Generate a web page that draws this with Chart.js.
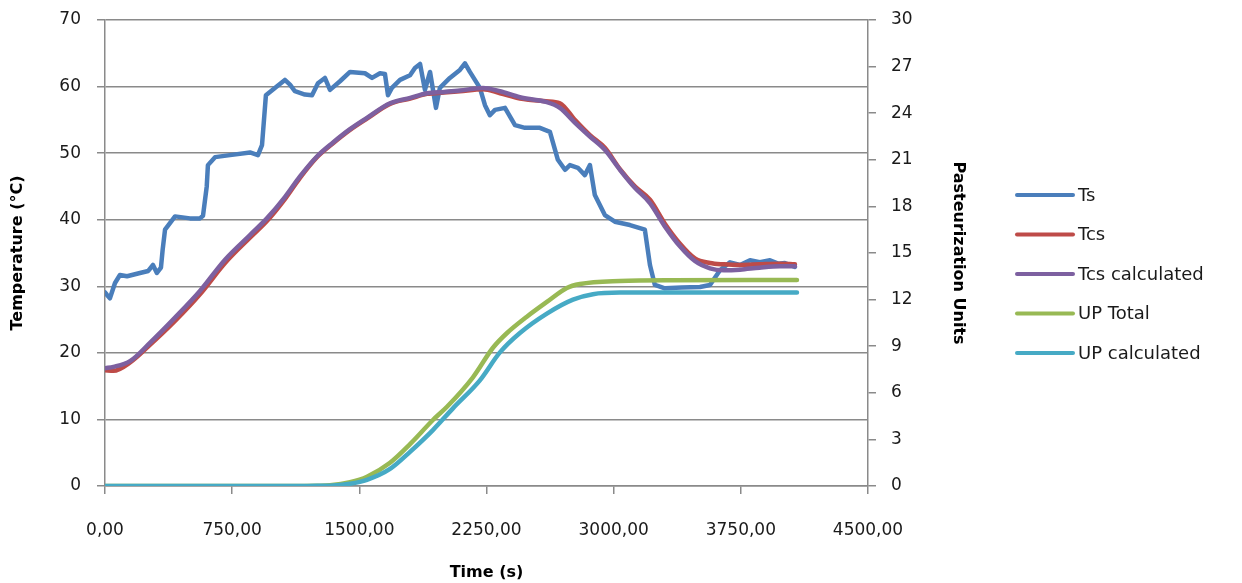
<!DOCTYPE html>
<html>
<head>
<meta charset="utf-8">
<script src="https://cdn.jsdelivr.net/npm/chart.js@4.4.1/dist/chart.umd.min.js"></script>
<style>
  html, body { margin: 0; padding: 0; background: #fff; }
  #wrap { width: 1242px; height: 583px; }
</style>
</head>
<body>
<div id="wrap"><canvas id="pasteurChart" width="1242" height="583"></canvas></div>
<script>
// Time axis ticks and series
const timeTicks = [0, 750, 1500, 2250, 3000, 3750, 4500];

// Ts (surface temperature) - noisy series
const tsTime = [0, 12, 29, 59, 88, 130, 206, 255, 283, 306, 330, 340, 354, 383, 413, 501, 560, 578, 600, 607,
  649, 737, 855, 902, 926, 949, 1002, 1061, 1091, 1120, 1179, 1221, 1256, 1297, 1327, 1386, 1445, 1533,
  1575, 1622, 1651, 1669, 1692, 1740, 1799, 1828, 1858, 1887, 1917, 1952, 1975, 2034, 2093, 2123, 2152,
  2211, 2241, 2270, 2300, 2359, 2418, 2477, 2565, 2624, 2671, 2713, 2742, 2789, 2830, 2860, 2889, 2948,
  3007, 3096, 3184, 3214, 3243, 3302, 3400, 3509, 3568, 3627, 3686, 3745, 3804, 3862, 3922, 3970, 4010, 4069];
const tsValues = [29.1, 28.7, 28.2, 30.5, 31.7, 31.5, 32.0, 32.3, 33.2, 32.0, 32.8, 35.5, 38.5, 39.5, 40.5, 40.2, 40.2, 40.6, 45.0, 48.2,
  49.4, 49.7, 50.1, 49.7, 51.2, 58.7, 59.8, 61.0, 60.3, 59.3, 58.8, 58.7, 60.5, 61.3, 59.5, 60.8, 62.2, 62.0,
  61.3, 62.0, 61.9, 58.7, 59.8, 61.0, 61.7, 62.8, 63.4, 59.5, 62.2, 56.8, 59.8, 61.3, 62.5, 63.5, 62.2,
  59.8, 57.2, 55.7, 56.5, 56.8, 54.2, 53.8, 53.8, 53.2, 49.0, 47.5, 48.2, 47.8, 46.7, 48.2, 43.7, 40.7,
  39.7, 39.2, 38.5, 33.2, 30.2, 29.7, 29.8, 29.9, 30.2, 32.4, 33.6, 33.2, 33.9, 33.6, 33.9, 33.4, 33.5, 32.9];

// Tcs (cold spot) measured and calculated, same time base
const tcsTime = [0, 50, 150, 265, 413, 560, 708, 855, 955, 1061, 1150, 1250, 1345, 1445, 1545, 1681, 1800, 1899,
  2000, 2093, 2229, 2330, 2447, 2600, 2683, 2771, 2860, 2948, 3037, 3125, 3214, 3302, 3391, 3479, 3568,
  3650, 3745, 3860, 3980, 4069];
const tcsValues = [17.4, 17.3, 18.6, 21.2, 24.8, 28.8, 33.5, 37.3, 39.8, 43.1, 46.3, 49.4, 51.5, 53.5, 55.2, 57.4, 58.2, 58.9,
  59.1, 59.3, 59.6, 59.0, 58.2, 57.8, 57.5, 55.0, 52.7, 50.8, 47.6, 45.0, 43.0, 39.4, 36.4, 34.2, 33.5,
  33.3, 33.2, 33.3, 33.4, 33.3];
const tcsCalcValues = [17.7, 17.9, 18.8, 21.5, 25.3, 29.3, 34.0, 37.7, 40.2, 43.4, 46.5, 49.5, 51.6, 53.6, 55.3, 57.5, 58.3, 59.0,
  59.2, 59.4, 59.8, 59.3, 58.4, 57.7, 56.8, 54.6, 52.5, 50.5, 47.5, 44.8, 42.5, 39.0, 36.0, 33.8, 32.7,
  32.4, 32.5, 32.8, 33.0, 33.0];

// Pasteurization units (right axis)
const upTotalTime = [0, 1100, 1250, 1327, 1445, 1545, 1681, 1799, 1934, 2017, 2170, 2288, 2371, 2488, 2606, 2724, 2801, 3037, 3350, 4081];
const upTotal = [0, 0, 0.02, 0.05, 0.25, 0.6, 1.5, 2.7, 4.25, 5.1, 7.0, 8.9, 9.85, 10.9, 11.85, 12.75, 13.0, 13.2, 13.25, 13.26];
const upCalcTime = [0, 1100, 1250, 1327, 1445, 1545, 1681, 1799, 1934, 2052, 2211, 2329, 2447, 2606, 2760, 2878, 3037, 3350, 4081];
const upCalc = [0, 0, 0.01, 0.02, 0.15, 0.4, 1.1, 2.2, 3.6, 5.0, 6.8, 8.6, 9.85, 11.1, 12.0, 12.35, 12.45, 12.45, 12.45];

const labels = ['Ts', 'Tcs', 'Tcs calculated', 'UP Total', 'UP calculated'];
const colors = ['#4A7EBB', '#BE4B48', '#7D60A0', '#98B954', '#46AAC5'];

function pairs(xs, ys) {
    return xs.map((x, i) => ({ x: x, y: ys[i] }));
}

function fmtComma(v) {
    return v.toFixed(2).replace('.', ',');
}

const gridGray = '#8A8A8A';
const tickFont = { family: 'DejaVu Sans', size: 17 };
const titleFont = { family: 'DejaVu Sans', size: 16, weight: 'bold' };

// legend drawn at the right, like the spreadsheet one
const sideLegend = {
    id: 'sideLegend',
    afterDraw(chart) {
        const ctx = chart.ctx;
        const x0 = 1017, x1 = 1073, top = 195, gap = 39.5;
        ctx.save();
        ctx.font = '18px "DejaVu Sans"';
        ctx.textBaseline = 'middle';
        ctx.lineCap = 'round';
        chart.data.datasets.forEach((ds, i) => {
            const y = top + i * gap;
            ctx.strokeStyle = ds.borderColor;
            ctx.lineWidth = 4;
            ctx.beginPath();
            ctx.moveTo(x0, y);
            ctx.lineTo(x1, y);
            ctx.stroke();
            ctx.fillStyle = '#1a1a1a';
            ctx.fillText(ds.label, x1 + 5, y + 1);
        });
        ctx.restore();
    }
};

// keep the plot top where the picture has it
function noVertPad(scale) {
    scale.paddingTop = 0;
    scale.paddingBottom = 0;
}

const ctx = document.getElementById('pasteurChart').getContext('2d');
new Chart(ctx, {
    type: 'line',
    data: {
        datasets: [
            { label: labels[0], data: pairs(tsTime, tsValues), borderColor: colors[0], yAxisID: 'y', order: 5, tension: 0 },
            { label: labels[1], data: pairs(tcsTime, tcsValues), borderColor: colors[1], yAxisID: 'y', order: 4, cubicInterpolationMode: 'monotone' },
            { label: labels[2], data: pairs(tcsTime, tcsCalcValues), borderColor: colors[2], yAxisID: 'y', order: 3, cubicInterpolationMode: 'monotone' },
            { label: labels[3], data: pairs(upTotalTime, upTotal), borderColor: colors[3], yAxisID: 'y1', order: 2, cubicInterpolationMode: 'monotone' },
            { label: labels[4], data: pairs(upCalcTime, upCalc), borderColor: colors[4], yAxisID: 'y1', order: 1, cubicInterpolationMode: 'monotone' }
        ]
    },
    options: {
        responsive: false,
        animation: false,
        elements: {
            point: { radius: 0 },
            line: { borderWidth: 4.5, borderCapStyle: 'round', borderJoinStyle: 'round', fill: false }
        },
        layout: { padding: { left: 0, right: 264, top: 20, bottom: 0 } },
        plugins: {
            legend: { display: false },
            tooltip: { enabled: false }
        },
        scales: {
            x: {
                type: 'linear',
                min: 0,
                max: 4500,
                afterBuildTicks(scale) { scale.ticks = timeTicks.map(v => ({ value: v })); },
                afterFit(scale) { scale.height = 97; },
                ticks: { callback: v => fmtComma(v), font: tickFont, color: '#1a1a1a', padding: 26, maxRotation: 0 },
                grid: { drawOnChartArea: false, drawTicks: true, tickLength: 8, color: gridGray, lineWidth: 1.5 },
                border: { color: gridGray, width: 1.5 },
                title: { display: true, text: 'Time (s)', font: titleFont, color: '#000', padding: { top: 4, bottom: 1 } }
            },
            y: {
                position: 'left',
                min: 0,
                max: 70,
                ticks: { stepSize: 10, font: tickFont, color: '#1a1a1a', padding: 16 },
                afterFit(scale) { scale.width = 105; noVertPad(scale); },
                grid: { color: gridGray, lineWidth: 1.5, tickLength: 8 },
                border: { color: gridGray, width: 1.5 },
                title: { display: true, text: 'Temperature (°C)', font: titleFont, color: '#000', padding: { top: 8, bottom: 4 } }
            },
            y1: {
                position: 'right',
                min: 0,
                max: 30,
                ticks: { stepSize: 3, font: tickFont, color: '#1a1a1a', padding: 15 },
                afterFit(scale) { scale.width = 110; noVertPad(scale); },
                grid: { drawOnChartArea: false, color: gridGray, lineWidth: 1.5, tickLength: 8 },
                border: { color: gridGray, width: 1.5 },
                title: { display: true, text: 'Pasteurization Units', font: titleFont, color: '#000', padding: { top: 10, bottom: 4 } }
            }
        }
    },
    plugins: [sideLegend]
});
</script>
</body>
</html>
